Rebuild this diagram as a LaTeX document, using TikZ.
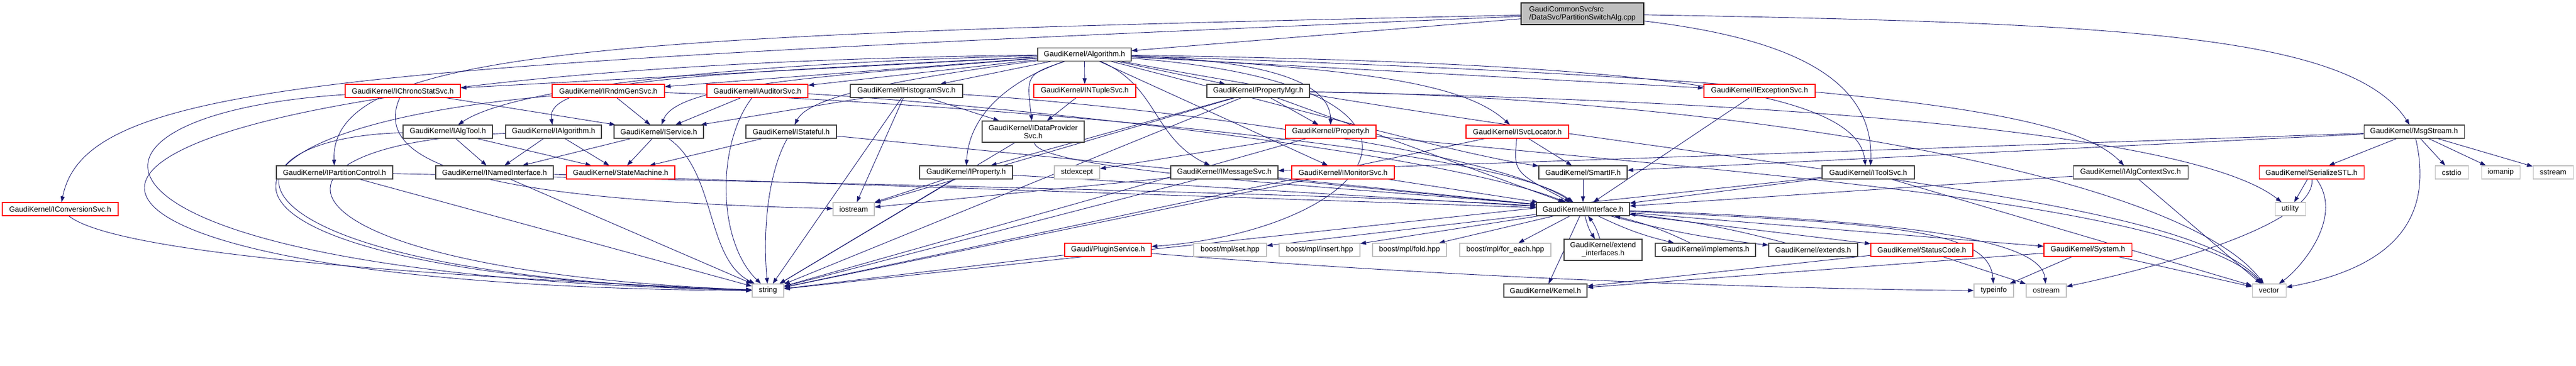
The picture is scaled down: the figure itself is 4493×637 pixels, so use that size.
\documentclass[tikz,border=0pt]{standalone}
\usepackage{fontspec}
\setmainfont{Liberation Sans}
\usepackage{tikz}
\usetikzlibrary{arrows.meta}
\definecolor{edgeblue}{RGB}{25,25,112}
\definecolor{boxgray}{RGB}{64,64,64}
\definecolor{boxred}{RGB}{255,0,0}
\definecolor{extgray}{RGB}{191,191,191}
\definecolor{rootgray}{RGB}{191,191,191}
\pgfdeclarelayer{background}
\pgfsetlayers{background,main}

\begin{document}
\begin{tikzpicture}[x=1pt, y=-1pt,
    every node/.style={font=\fontsize{13}{14}\selectfont, inner sep=0pt, minimum height=23pt, line width=1.1pt, fill=white},
    hdr/.style={draw=boxgray},
    hdrred/.style={draw=boxred},
    hdrsys/.style={draw=extgray},
    dep/.style={edgeblue, line width=0.9pt, -{Triangle[length=10pt,width=7pt]}}]
  \useasboundingbox (0,0) rectangle (4493,637);

  % Source file and Algorithm.h
  \node[draw=black, fill=rootgray, minimum width=214pt, minimum height=38pt, align=left] (root) at (2760,24) {GaudiCommonSvc/src\\/DataSvc/PartitionSwitchAlg.cpp};
  \node[hdr, minimum width=163pt] (alg) at (1891.5,95) {GaudiKernel/Algorithm.h};

  % Services included by Algorithm.h
  \node[hdrred, minimum width=201pt] (chrono) at (702.5,158.5) {GaudiKernel/IChronoStatSvc.h};
  \node[hdrred, minimum width=196pt] (rndm) at (1061,158.5) {GaudiKernel/IRndmGenSvc.h};
  \node[hdrred, minimum width=176pt] (auditor) at (1321,158.5) {GaudiKernel/IAuditorSvc.h};
  \node[hdr, minimum width=196pt] (histo) at (1581,158.5) {GaudiKernel/IHistogramSvc.h};
  \node[hdrred, minimum width=178pt] (ntuple) at (1892,158.5) {GaudiKernel/INTupleSvc.h};
  \node[hdr, minimum width=179pt] (propmgr) at (2194.5,158.5) {GaudiKernel/PropertyMgr.h};
  \node[hdrred, minimum width=194pt] (exception) at (3069,158.5) {GaudiKernel/IExceptionSvc.h};

  % Third row
  \node[hdr, minimum width=156pt] (algtool) at (781,229.5) {GaudiKernel/IAlgTool.h};
  \node[hdr, minimum width=167pt] (ialg) at (965.5,229.5) {GaudiKernel/IAlgorithm.h};
  \node[hdr, minimum width=156pt] (service) at (1149,229.5) {GaudiKernel/IService.h};
  \node[hdr, minimum width=158pt] (stateful) at (1380,229.5) {GaudiKernel/IStateful.h};
  \node[hdr, minimum width=178pt, minimum height=37pt, align=center] (dataprov) at (1802,229.5) {GaudiKernel/IDataProvider\\Svc.h};
  \node[hdrred, minimum width=158pt] (property) at (2321,229.5) {GaudiKernel/Property.h};
  \node[hdrred, minimum width=179pt] (svcloc) at (2646.5,229.5) {GaudiKernel/ISvcLocator.h};
  \node[hdr, minimum width=175pt] (msgstream) at (4210.5,229.5) {GaudiKernel/MsgStream.h};

  % Fourth row
  \node[hdr, minimum width=203pt] (partition) at (583.5,300.5) {GaudiKernel/IPartitionControl.h};
  \node[hdr, minimum width=205pt] (named) at (862.5,300.5) {GaudiKernel/INamedInterface.h};
  \node[hdrred, minimum width=189pt] (statemachine) at (1082.5,300.5) {GaudiKernel/StateMachine.h};
  \node[hdr, minimum width=162pt] (iproperty) at (1685,300.5) {GaudiKernel/IProperty.h};
  \node[hdrsys, minimum width=79pt] (stdexcept) at (1878.5,300.5) {stdexcept};
  \node[hdr, minimum width=187pt] (msgsvc) at (2135.5,300.5) {GaudiKernel/IMessageSvc.h};
  \node[hdrred, minimum width=179pt] (monitor) at (2342.5,300.5) {GaudiKernel/IMonitorSvc.h};
  \node[hdr, minimum width=154pt] (smartif) at (2761,300.5) {GaudiKernel/SmartIF.h};
  \node[hdr, minimum width=161pt] (toolsvc) at (3258.5,300.5) {GaudiKernel/IToolSvc.h};
  \node[hdr, minimum width=200pt] (algctx) at (3716,300.5) {GaudiKernel/IAlgContextSvc.h};
  \node[hdrred, minimum width=183pt] (serialize) at (4031.5,300.5) {GaudiKernel/SerializeSTL.h};
  \node[hdrsys, minimum width=58pt] (cstdio) at (4276,300.5) {cstdio};
  \node[hdrsys, minimum width=67pt] (iomanip) at (4361.5,300.5) {iomanip};
  \node[hdrsys, minimum width=70pt] (sstream) at (4453,300.5) {sstream};

  % Fifth row
  \node[hdrred, minimum width=202pt] (conversion) at (105,364.5) {GaudiKernel/IConversionSvc.h};
  \node[hdrsys, minimum width=72pt] (iostream) at (1489,364.5) {iostream};
  \node[hdr, minimum width=162pt] (iinterface) at (2761,364.5) {GaudiKernel/IInterface.h};
  \node[hdrsys, minimum width=53pt] (utility) at (3994.5,364.5) {utility};

  % Sixth row
  \node[hdrred, minimum width=151pt] (plugin) at (1932.5,435.5) {Gaudi/PluginService.h};
  \node[hdrsys, minimum width=127pt] (mplset) at (2145.5,435.5) {boost/mpl/set.hpp};
  \node[hdrsys, minimum width=141pt] (mplinsert) at (2301.5,435.5) {boost/mpl/insert.hpp};
  \node[hdrsys, minimum width=129pt] (mplfold) at (2458.5,435.5) {boost/mpl/fold.hpp};
  \node[hdrsys, minimum width=159pt] (mplforeach) at (2625.5,435.5) {boost/mpl/for\_each.hpp};
  \node[hdr, minimum width=136pt, minimum height=37pt, align=center] (extendif) at (2796,435.5) {GaudiKernel/extend\\\_interfaces.h};
  \node[hdr, minimum width=175pt] (implements) at (2974.5,435.5) {GaudiKernel/implements.h};
  \node[hdr, minimum width=155pt] (extends) at (3162.5,435.5) {GaudiKernel/extends.h};
  \node[hdrred, minimum width=178pt] (statuscode) at (3352,435.5) {GaudiKernel/StatusCode.h};
  \node[hdrred, minimum width=153pt] (system) at (3641.5,435.5) {GaudiKernel/System.h};

  % Bottom row
  \node[hdrsys, minimum width=55pt] (string) at (1339.5,506.5) {string};
  \node[hdr, minimum width=145pt] (kernel) at (2695.5,506.5) {GaudiKernel/Kernel.h};
  \node[hdrsys, minimum width=69pt] (typeinfo) at (3477.5,506.5) {typeinfo};
  \node[hdrsys, minimum width=70pt] (ostream) at (3569,506.5) {ostream};
  \node[hdrsys, minimum width=59pt] (vector) at (3957.5,506.5) {vector};

  \begin{pgfonlayer}{background}
  % PartitionSwitchAlg.cpp
  \draw[dep] (root) -- (alg);
  \draw[dep] (root) .. controls (600,115) and (150,140) .. (conversion);
  \draw[dep] (root) .. controls (1100,60) and (575,80) .. (partition);
  \draw[dep] (root) .. controls (3700,40) and (4100,60) .. (msgstream);
  \draw[dep] (root) .. controls (3150,70) and (3268,150) .. ([xshift=4pt]toolsvc.north);

  % Algorithm.h
  \draw[dep] (alg) -- (chrono);
  \draw[dep] (alg) -- (rndm);
  \draw[dep] (alg) -- (auditor);
  \draw[dep] (alg) -- (histo);
  \draw[dep] (alg) -- (ntuple);
  \draw[dep] (alg) -- (propmgr);
  \draw[dep] (alg) -- (exception);
  \draw[dep] (alg) .. controls (1300,110) and (900,150) .. (algtool);
  \draw[dep] (alg) .. controls (1200,130) and (950,140) .. (ialg);
  \draw[dep] (alg) .. controls (1400,135) and (1180,150) .. (service);
  \draw[dep] (alg) .. controls (1550,140) and (1410,170) .. (stateful);
  \draw[dep] (alg) .. controls (1790,130) .. (dataprov);
  \draw[dep] (alg) .. controls (1760,140) and (1690,200) .. (iproperty);
  \draw[dep] (alg) .. controls (2200,105) and (2320,140) .. (property);
  \draw[dep] (alg) .. controls (2400,120) and (2560,150) .. (svcloc);
  \draw[dep] (alg) .. controls (2020,150) and (2010,240) .. (msgsvc);
  \draw[dep] (alg) -- (monitor);
  \draw[dep] (alg) .. controls (2300,200) and (2550,270) .. (smartif);
  \draw[dep] (alg) .. controls (3300,140) and (3620,200) .. (algctx);
  \draw[dep] (alg) .. controls (2900,110) and (3240,160) .. ([xshift=-5pt]toolsvc.north);
  \draw[dep] (alg) .. controls (2600,150) and (2400,400) .. (plugin);
  \draw[dep] (alg) .. controls (-200,120) and (-150,500) .. (string);
  \draw[dep] (alg) .. controls (3000,300) and (3800,330) .. (vector);

  % second row
  \draw[dep] (chrono) -- (service);
  \draw[dep] (chrono) .. controls (50,200) and (80,480) .. (string);
  \draw[dep] (chrono) .. controls (640,300) and (900,350) .. (iostream);
  \draw[dep] (rndm) -- (service);
  \draw[dep] (rndm) .. controls (250,230) and (300,480) .. (string);
  \draw[dep] (rndm) .. controls (1600,175) and (2600,250) .. (iinterface);
  \draw[dep] (auditor) -- (service);
  \draw[dep] (auditor) .. controls (1250,250) and (1250,420) .. (string);
  \draw[dep] (auditor) .. controls (1700,180) and (2500,260) .. (iinterface);
  \draw[dep] (histo) -- (service);
  \draw[dep] (histo) -- (dataprov);
  \draw[dep] (histo) -- (iostream);
  \draw[dep] (histo) -- (string);
  \draw[dep] (histo) .. controls (2000,185) and (2600,260) .. (iinterface);
  \draw[dep] (ntuple) -- (dataprov);
  \draw[dep] (propmgr) -- (property);
  \draw[dep] (propmgr) -- (iproperty);
  \draw[dep] (propmgr) -- (iinterface);
  \draw[dep] (propmgr) -- (iostream);
  \draw[dep] (propmgr) -- (string);
  \draw[dep] (propmgr) .. controls (3000,170) and (3800,300) .. (vector);
  \draw[dep] (propmgr) .. controls (3300,180) and (3850,250) .. (utility);
  \draw[dep] (exception) -- (iinterface);

  % third row
  \draw[dep] (algtool) -- (named);
  \draw[dep] (algtool) -- (statemachine);
  \draw[dep] (algtool) .. controls (350,240) and (350,480) .. (string);
  \draw[dep] (ialg) -- (named);
  \draw[dep] (ialg) -- (statemachine);
  \draw[dep] (ialg) .. controls (400,250) and (450,470) .. (string);
  \draw[dep] (service) -- (named);
  \draw[dep] (service) -- (statemachine);
  \draw[dep] (service) .. controls (1250,300) and (1230,450) .. (string);
  \draw[dep] (stateful) -- (statemachine);
  \draw[dep] (stateful) .. controls (1340,300) and (1330,400) .. (string);
  \draw[dep] (stateful) -- (iinterface);
  \draw[dep] (dataprov) -- (string);
  \draw[dep] (dataprov) .. controls (1810,300) and (2400,330) .. (iinterface);
  \draw[dep] (property) -- (stdexcept);
  \draw[dep] (property) -- (string);
  \draw[dep] (property) .. controls (3000,300) and (3800,350) .. (vector);
  \draw[dep] (svcloc) -- (smartif);
  \draw[dep] (svcloc) .. controls (2640,300) .. (iinterface);
  \draw[dep] (svcloc) -- (string);
  \draw[dep] (msgstream) -- (msgsvc);
  \draw[dep] (msgstream) -- (smartif);
  \draw[dep] (msgstream) -- (serialize);
  \draw[dep] (msgstream) -- (cstdio);
  \draw[dep] (msgstream) -- (iomanip);
  \draw[dep] (msgstream) -- (sstream);
  \draw[dep] (msgstream) .. controls (4250,400) and (4150,470) .. (vector);

  % fourth row
  \draw[dep] (partition) .. controls (1500,320) and (2400,340) .. (iinterface);
  \draw[dep] (partition) -- (string);
  \draw[dep] (named) -- (iinterface);
  \draw[dep] (named) -- (string);
  \draw[dep] (iproperty) -- (iinterface);
  \draw[dep] (iproperty) -- (iostream);
  \draw[dep] (iproperty) -- (string);
  \draw[dep] (msgsvc) -- (iinterface);
  \draw[dep] (msgsvc) -- (iostream);
  \draw[dep] (msgsvc) -- (string);
  \draw[dep] (monitor) -- (iinterface);
  \draw[dep] (monitor) -- (string);
  \draw[dep] (smartif) -- (iinterface);
  \draw[dep] (toolsvc) -- (iinterface);
  \draw[dep] (toolsvc) -- (string);
  \draw[dep] (toolsvc) -- (vector);
  \draw[dep] (algctx) -- (iinterface);
  \draw[dep] (algctx) -- (vector);
  \draw[dep] (serialize) -- (utility);
  \draw[dep] (serialize) .. controls (4040,400) and (3700,480) .. (ostream);
  \draw[dep] (serialize) .. controls (4090,380) and (4010,470) .. (vector);
  \draw[dep] (conversion) .. controls (200,440) and (700,480) .. (string);

  % IInterface.h
  \draw[dep] (iinterface) -- (mplset);
  \draw[dep] (iinterface) -- (mplinsert);
  \draw[dep] (iinterface) -- (mplfold);
  \draw[dep] (iinterface) -- (mplforeach);
  \draw[dep] (iinterface) to[bend right=10] (extendif);
  \draw[dep] (extendif) to[bend right=10] (iinterface);
  \draw[dep] (iinterface) to[bend right=6] (implements);
  \draw[dep] (implements) to[bend right=6] (iinterface);
  \draw[dep] (iinterface) to[bend right=4] (extends);
  \draw[dep] (extends) to[bend right=4] (iinterface);
  \draw[dep] (iinterface) -- (statuscode);
  \draw[dep] (iinterface) -- (system);
  \draw[dep] (iinterface) .. controls (3300,390) and (3470,400) .. (typeinfo);
  \draw[dep] (iinterface) .. controls (3350,385) and (3560,420) .. (ostream);
  \draw[dep] (iinterface) -- (kernel);

  % sixth row
  \draw[dep] (plugin) -- (string);
  \draw[dep] (plugin) .. controls (2600,490) and (3200,505) .. (typeinfo);
  \draw[dep] (statuscode) -- (ostream);
  \draw[dep] (statuscode) -- (kernel);
  \draw[dep] (system) -- (typeinfo);
  \draw[dep] (system) -- (kernel);
  \draw[dep] (system) -- (vector);
  \end{pgfonlayer}
\end{tikzpicture}
\end{document}
